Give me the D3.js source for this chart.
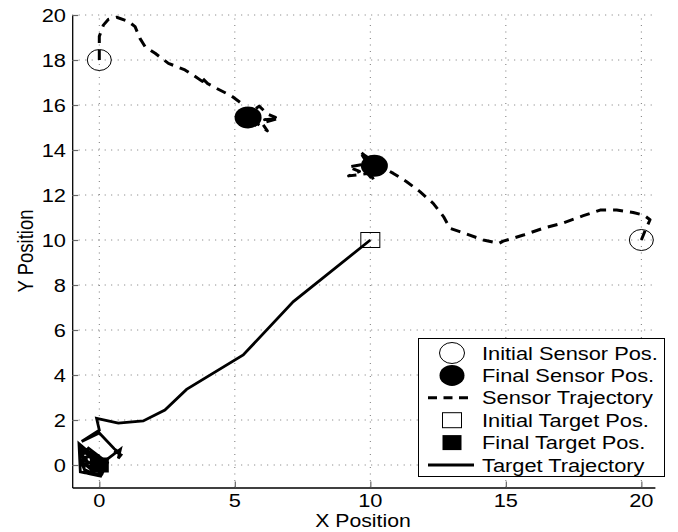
<!DOCTYPE html>
<html><head><meta charset="utf-8">
<script src="https://cdn.jsdelivr.net/npm/d3@7"></script>
<style>body{margin:0;background:#fff}svg{display:block}text{font-family:"Liberation Sans",Arial,sans-serif;fill:#000}</style>
</head><body><svg id="c" width="678" height="532"></svg>
<script>
const xTicks = [0, 5, 10, 15, 20];
const yTicks = [0, 2, 4, 6, 8, 10, 12, 14, 16, 18, 20];
const legendLabels = ["Initial Sensor Pos.", "Final Sensor Pos.", "Sensor Trajectory", "Initial Target Pos.", "Final Target Pos.", "Target Trajectory"];
const initialSensors = [[0, 18], [20, 10]];
const finalSensors = [[5.49, 15.45], [10.15, 13.3]];
const initialTarget = [[10, 10]];
const finalTarget = [[0, 0]];
const sensor1 = [[0,18],[0,19.05],[0.15,19.55],[0.33,19.8],[0.64,19.9],[1.07,19.72],[1.32,19.48],[1.5,18.96],[1.69,18.59],[2.06,18.3],[2.55,17.85],[3.16,17.56],[3.5,17.3],[3.8,17.05],[3.75,17.25],[4.0,16.95],[4.39,16.7],[4.88,16.4],[5.25,16.07],[5.5,15.6],[5.9,15.95],[6.2,15.6],[6.5,15.45],[6.1,15.35],[6.6,15.4],[6.0,15.2],[6.2,14.85],[5.8,15.2],[5.49,15.45]];
const sensor2 = [[20,10],[20.15,10.45],[20.32,10.9],[20.1,11.1],[19.7,11.22],[19.09,11.33],[18.48,11.33],[17.86,11.08],[17.12,10.76],[16.38,10.52],[15.65,10.22],[14.9,9.95],[14.75,9.85],[14.17,10.0],[13.3,10.37],[12.94,10.52],[12.7,11.04],[12.32,11.63],[11.83,12.15],[11.34,12.59],[10.85,12.96],[10.5,13.2],[9.8,13.75],[9.6,13.95],[9.9,13.4],[9.2,13.25],[9.6,13.05],[9.2,12.85],[9.9,12.95],[10.15,12.6],[9.9,13.2],[10.15,13.3]];
const target = [[10,10],[7.16,7.26],[5.31,4.89],[3.22,3.36],[2.42,2.44],[1.62,1.96],[0.7,1.86],[-0.1,2.07],[0.0,1.55],[-0.65,1.05],[0.0,1.42],[0.55,0.72],[0.75,0.55],[0.55,0.62],[0.8,0.45],[0.7,0.3],[0.78,0.7],[0.1,0.08],
  [-0.75,0.95],[-0.7,-0.3],[0.05,-0.5],[0.3,0.1],[-0.4,0.75],[-0.72,0.3],[-0.5,-0.35],[0.1,-0.4],[0.25,0.05],[-0.3,0.6],[-0.6,0.1],[-0.2,-0.3],[0.1,0.0],[-0.3,0.3],
  [-0.65,0.7],[-0.55,-0.2],[-0.1,-0.45],[0.2,-0.2],[-0.45,0.55],[-0.68,0.5],[-0.35,-0.1],[-0.1,0.4],[-0.55,0.35],[-0.4,0.1],[-0.15,0.15],[0,0]];

const svg = d3.select("#c");
const SX = 1.18;
const x = d3.scaleLinear().domain([-1, 20.5]).range([72.2, 654.9]);
const y = d3.scaleLinear().domain([-1, 20]).range([487.5, 15]);

function txt(px, py, s, anchor, size, extra) {
  return svg.append("text")
    .attr("transform", `translate(${px},${py}) scale(${SX},1)` + (extra || ""))
    .attr("text-anchor", anchor).attr("font-size", size).text(s);
}

// grid
const grid = svg.append("g").attr("stroke", "#777").attr("stroke-width", 1).attr("stroke-dasharray", "1,5.5");
grid.selectAll(".gx").data(xTicks).join("line")
  .attr("x1", d => x(d)).attr("x2", d => x(d)).attr("y1", y(-1)).attr("y2", y(20));
grid.selectAll(".gy").data(yTicks).join("line")
  .attr("y1", d => y(d)).attr("y2", d => y(d)).attr("x1", x(-1)).attr("x2", x(20.5));

// axes
const ax = svg.append("g").attr("transform", `translate(0,${y(-1)})`)
  .call(d3.axisBottom(x).tickValues(xTicks).tickSizeInner(-6).tickSizeOuter(0).tickFormat(""));
const ay = svg.append("g").attr("transform", `translate(${x(-1)},0)`)
  .call(d3.axisLeft(y).tickValues(yTicks).tickSizeInner(-6).tickSizeOuter(0).tickFormat(""));
[ax, ay].forEach(g => {
  g.select(".domain").attr("stroke", "#000").attr("stroke-width", 1.3);
  g.selectAll(".tick line").attr("stroke", "#666").attr("stroke-width", 1.2);
});
xTicks.forEach(t => txt(x(t), 507, String(t), "middle", 18.5));
yTicks.forEach(t => txt(66, y(t) + 6.5, String(t), "end", 18.5));
txt(363, 527, "X Position", "middle", 18);
txt(33, 251, "Y Position", "middle", 18.5, " rotate(-90)");

// trajectories
const line = d3.line().x(d => x(d[0])).y(d => y(d[1]));
[sensor1, sensor2].forEach(s => svg.append("path").attr("d", line(s))
  .attr("fill", "none").attr("stroke", "#000").attr("stroke-width", 3)
  .attr("stroke-dasharray", "10,7").attr("stroke-linejoin", "round"));
svg.append("path").attr("d", line(target)).attr("fill", "none")
  .attr("stroke", "#000").attr("stroke-width", 2.8).attr("stroke-linejoin", "miter");

// markers
svg.selectAll(".is").data(initialSensors).join("ellipse")
  .attr("cx", d => x(d[0])).attr("cy", d => y(d[1])).attr("rx", 12).attr("ry", 10.5)
  .attr("fill", "none").attr("stroke", "#000").attr("stroke-width", 1);
svg.selectAll(".fs").data(finalSensors).join("ellipse")
  .attr("cx", d => x(d[0])).attr("cy", d => y(d[1])).attr("rx", 13.5).attr("ry", 11)
  .attr("fill", "#000");
svg.selectAll(".it").data(initialTarget).join("rect")
  .attr("x", d => x(d[0]) - 9.5).attr("y", d => y(d[1]) - 7.5).attr("width", 19).attr("height", 15)
  .attr("fill", "none").attr("stroke", "#000").attr("stroke-width", 1);
svg.selectAll(".ft").data(finalTarget).join("rect")
  .attr("x", d => x(d[0]) - 9.5).attr("y", d => y(d[1]) - 7.5).attr("width", 19).attr("height", 15)
  .attr("fill", "#000");

// legend
const lg = svg.append("g");
lg.append("rect").attr("x", 418.5).attr("y", 338.5).attr("width", 246).attr("height", 138)
  .attr("fill", "#fff").attr("stroke", "#000").attr("stroke-width", 1);
const rowY = i => 353 + i * 22.4;
const mx = 452;
lg.append("ellipse").attr("cx", mx).attr("cy", rowY(0)).attr("rx", 12.5).attr("ry", 10.5)
  .attr("fill", "none").attr("stroke", "#000");
lg.append("ellipse").attr("cx", mx).attr("cy", rowY(1)).attr("rx", 12.5).attr("ry", 10.5).attr("fill", "#000");
lg.append("line").attr("x1", 428).attr("x2", 474).attr("y1", rowY(2)).attr("y2", rowY(2))
  .attr("stroke", "#000").attr("stroke-width", 3).attr("stroke-dasharray", "9,6.5");
lg.append("rect").attr("x", mx - 9.5).attr("y", rowY(3) - 7.5).attr("width", 19).attr("height", 15)
  .attr("fill", "none").attr("stroke", "#000");
lg.append("rect").attr("x", mx - 9.5).attr("y", rowY(4) - 7.5).attr("width", 19).attr("height", 15).attr("fill", "#000");
lg.append("line").attr("x1", 428).attr("x2", 474).attr("y1", rowY(5)).attr("y2", rowY(5))
  .attr("stroke", "#000").attr("stroke-width", 2.8);
legendLabels.forEach((s, i) => txt(482, rowY(i) + 6.5, s, "start", 18.5));
</script></body></html>
